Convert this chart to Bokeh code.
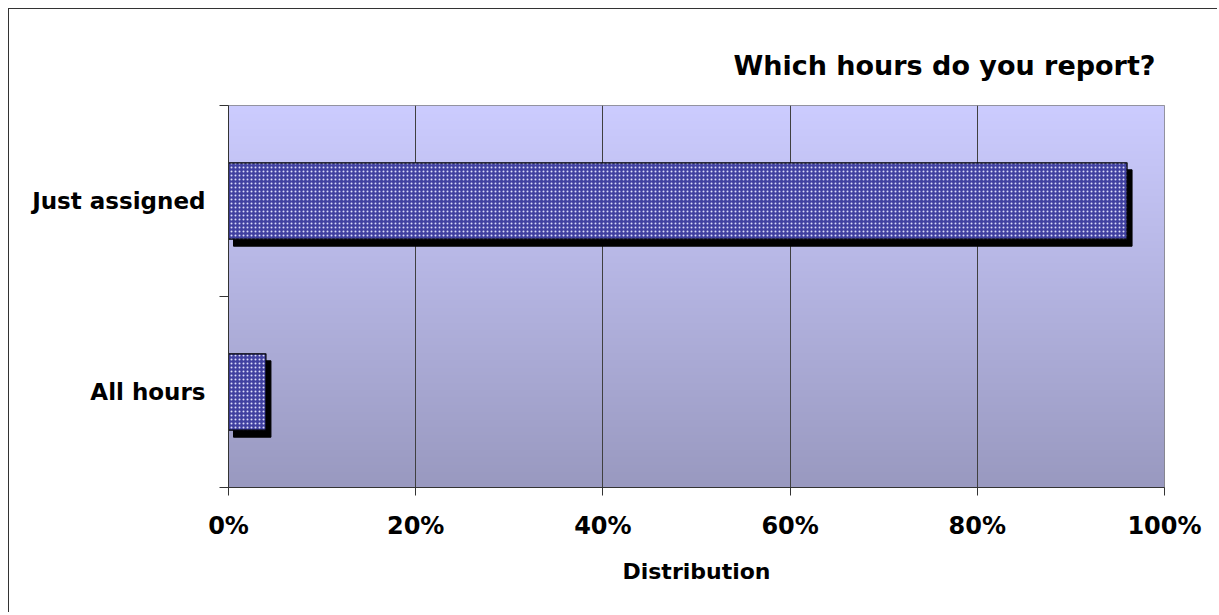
import numpy as np
from bokeh.plotting import figure
from bokeh.models import Range1d, FixedTicker, NumeralTickFormatter, Title
from bokeh.embed import file_html
from bokeh.resources import INLINE

# ---- data ----
categories = ["All hours", "Just assigned"]
shares = [0.04, 0.96]
x_ticks = [0.0, 0.2, 0.4, 0.6, 0.8, 1.0]
title_text = "Which hours do you report?"
x_label = "Distribution"

# ---- style constants ----
FONT = "DejaVu Sans"
FRAME_W, FRAME_H = 936, 382
BAR_H = 0.4
n = len(categories)
centers = [i + 0.5 for i in range(n)]
SDX = 5 / FRAME_W            # shadow offset (5px right)
SDY = 7 / (FRAME_H / n)      # shadow offset (7px down)

p = figure(frame_width=FRAME_W, frame_height=FRAME_H,
           min_border_left=219, min_border_right=53,
           min_border_top=96, min_border_bottom=125,
           x_range=Range1d(0, 1), y_range=Range1d(0, n),
           output_backend="svg", toolbar_location=None)
p.styles = {"margin-left": "8px", "margin-top": "8px",
            "border-left": "1px solid #333333", "border-top": "1px solid #333333"}
p.background_fill_color = "white"
p.border_fill_color = "white"
p.outline_line_color = "#808080"

# gradient plot-area background
N = 256
img = np.empty((N, 1), dtype=np.uint32)
view = img.view(dtype=np.uint8).reshape((N, 1, 4))
t = np.linspace(0, 1, N)
bottom_c = np.array([153, 153, 192])
top_c = np.array([204, 204, 255])
for k in range(3):
    view[:, 0, k] = (bottom_c[k] + (top_c[k] - bottom_c[k]) * t).astype(np.uint8)
view[:, 0, 3] = 255
p.image_rgba(image=[img], x=0, y=0, dw=1, dh=n, level="image")

# shadows
p.quad(left=[SDX] * n, right=[s + SDX for s in shares],
       top=[c + BAR_H / 2 - SDY for c in centers],
       bottom=[c - BAR_H / 2 - SDY for c in centers],
       fill_color="black", line_color="black")
# bars
p.hbar(y=centers, left=0, right=shares, height=BAR_H,
       fill_color="#4040A0", line_color="black", line_width=1.2,
       hatch_pattern="dot", hatch_color="#DCDCFA", hatch_scale=4, hatch_weight=1.5)

# axes
p.xaxis.ticker = FixedTicker(ticks=x_ticks)
p.xaxis.formatter = NumeralTickFormatter(format="0%")
p.xaxis.major_tick_out = 8
p.xaxis.major_tick_in = 0
p.xaxis.axis_label = x_label
p.xaxis.major_label_standoff = 16
p.xaxis.axis_label_standoff = 16

p.yaxis.ticker = FixedTicker(ticks=centers, minor_ticks=list(range(n + 1)))
p.yaxis.major_label_overrides = {c: cat for c, cat in zip(centers, categories)}
p.yaxis.major_tick_out = 0
p.yaxis.major_tick_in = 0
p.yaxis.minor_tick_out = 9
p.yaxis.minor_tick_in = 0
p.yaxis.major_label_standoff = 14

for ax in (p.xaxis[0], p.yaxis[0]):
    ax.axis_line_color = "#333333"
    ax.major_tick_line_color = "#333333"
    ax.major_label_text_font = FONT
    ax.major_label_text_font_style = "bold"
    ax.major_label_text_color = "black"
    ax.axis_label_text_font = FONT
    ax.axis_label_text_font_style = "bold"
    ax.axis_label_text_color = "black"
p.xaxis.minor_tick_line_color = None
p.yaxis.minor_tick_line_color = "#333333"
p.xaxis.major_label_text_font_size = "24px"
p.yaxis.major_label_text_font_size = "23px"
p.xaxis.axis_label_text_font_size = "22px"

p.xgrid.ticker = FixedTicker(ticks=x_ticks)
p.xgrid.grid_line_color = "#404040"
p.xgrid.grid_line_width = 1
p.ygrid.visible = False

p.add_layout(Title(text=title_text, align="right", offset=9, standoff=50,
                   text_font=FONT, text_font_style="bold",
                   text_font_size="27px", text_color="black"), "above")

open("out.html", "w").write(file_html(p, INLINE))
